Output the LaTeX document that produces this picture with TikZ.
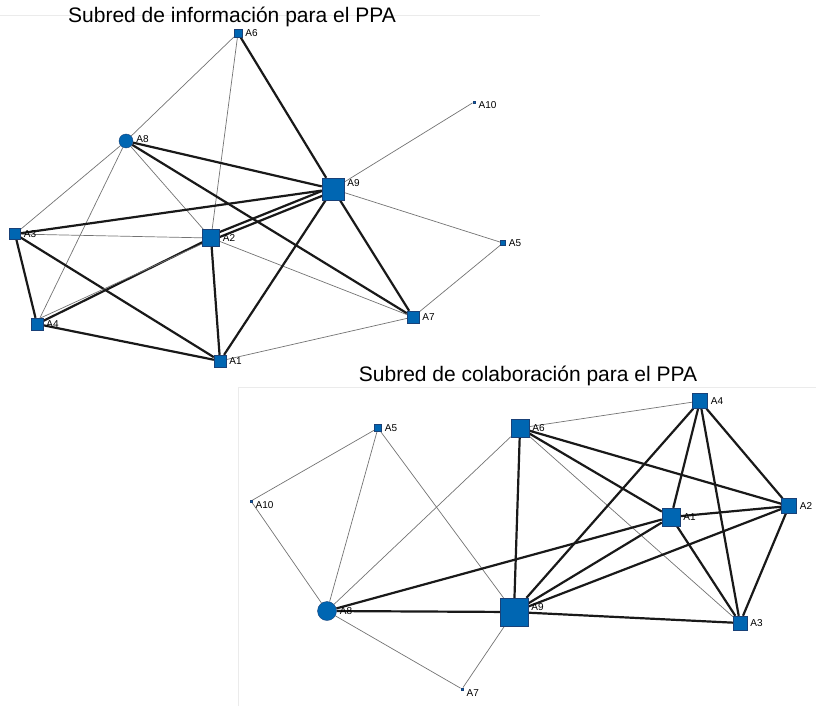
\documentclass[tikz,border=0pt]{standalone}
\usepackage{fontspec}
\setmainfont{Liberation Sans}
\usetikzlibrary{backgrounds}
\definecolor{nodeblue}{RGB}{0,102,178}
\definecolor{nodeline}{RGB}{25,65,120}
\tikzset{
  actor/.style={rectangle,draw=nodeline,line width=0.4pt,fill=nodeblue,inner sep=0pt,minimum size=#1},
  actorc/.style={circle,draw=nodeline,line width=0.4pt,fill=nodeblue,inner sep=0pt,minimum size=#1},
  lbl/.style={font=\fontsize{10}{12}\selectfont,inner sep=1pt,label distance=2pt},
  strong/.style={line width=2.2pt,black!90},
  weak/.style={line width=0.7pt,black!55},
  ttl/.style={font=\fontsize{21}{24}\selectfont,anchor=base,inner sep=0pt},
  frame/.style={line width=0.6pt,black!8}
}
\begin{document}
\begin{tikzpicture}[x=1pt,y=-1pt]
\useasboundingbox (0,0) rectangle (816,706);
\draw[frame] (0,15) -- (540,15);
\draw[frame] (238,706) -- (238,387) -- (816,387);
% subred de informacion
\node[ttl] (ttlinfo) at (232,23) {Subred de información para el PPA};
\node[actor=8pt,label={[lbl]right:A6}] (iA6) at (238,33) {};
\node[actorc=14pt,label={[lbl,yshift=2pt]right:A8}] (iA8) at (126,141) {};
\node[actor=22pt,label={[lbl,yshift=6pt]right:A9}] (iA9) at (333,189) {};
\node[actor=11pt,label={[lbl]right:A3}] (iA3) at (15,234) {};
\node[actor=17pt,label={[lbl]right:A2}] (iA2) at (211,238) {};
\node[actor=12pt,label={[lbl]right:A4}] (iA4) at (37,324) {};
\node[actor=12pt,label={[lbl]right:A1}] (iA1) at (220,361) {};
\node[actor=12pt,label={[lbl]right:A7}] (iA7) at (413,317) {};
\node[actor=5pt,label={[lbl]right:A5}] (iA5) at (503,243) {};
\node[actor=2.5pt,label={[lbl,yshift=-3pt]right:A10}] (iA10) at (474,102) {};
\begin{scope}[on background layer]
\foreach \a/\b in {iA6/iA8,iA6/iA2,iA8/iA3,iA8/iA4,iA8/iA2,iA9/iA10,iA9/iA5,
                   iA3/iA2,iA2/iA7,iA1/iA7,iA7/iA5}
  \draw[weak] (\a) -- (\b);
\foreach \a/\b in {iA6/iA9,iA8/iA9,iA8/iA7,iA9/iA3,iA9/iA1,iA9/iA7,
                   iA3/iA4,iA3/iA1,iA2/iA1,iA4/iA1,iA4/iA2}
  \draw[strong] (\a) -- (\b);
\draw[strong] ([yshift=2.5pt]iA2.center) -- ([yshift=2.5pt]iA9.center);
\draw[strong] ([yshift=-2.5pt]iA2.center) -- ([yshift=-2.5pt]iA9.center);
\draw[weak] ([xshift=-3pt,yshift=3pt]iA4.center) -- ([xshift=-7pt,yshift=-5pt]iA2.center);
\end{scope}
% subred de colaboracion
\node[ttl] (ttlcolab) at (528,381) {Subred de colaboración para el PPA};
\node[actor=7pt,label={[lbl]right:A5}] (cA5) at (378,428) {};
\node[actor=2.5pt,label={[lbl,yshift=-4pt]right:A10}] (cA10) at (251,501) {};
\node[actorc=19pt,label={[lbl]right:A8}] (cA8) at (327,611) {};
\node[actor=28pt,label={[lbl,yshift=5pt]right:A9}] (cA9) at (514,612) {};
\node[actor=2.5pt,label={[lbl,yshift=-4pt]right:A7}] (cA7) at (462,689) {};
\node[actor=18pt,label={[lbl]right:A6}] (cA6) at (520,428) {};
\node[actor=15pt,label={[lbl]right:A4}] (cA4) at (700,401) {};
\node[actor=18pt,label={[lbl]right:A1}] (cA1) at (671,517) {};
\node[actor=15pt,label={[lbl]right:A2}] (cA2) at (789,506) {};
\node[actor=14pt,label={[lbl]right:A3}] (cA3) at (740,623) {};
\begin{scope}[on background layer]
\foreach \a/\b in {cA5/cA10,cA5/cA8,cA5/cA9,cA10/cA8,cA8/cA6,cA8/cA7,
                   cA9/cA7,cA6/cA4,cA6/cA3}
  \draw[weak] (\a) -- (\b);
\foreach \a/\b in {cA8/cA1,cA8/cA9,cA6/cA9,cA6/cA1,cA6/cA2,cA4/cA9,cA4/cA1,
                   cA4/cA3,cA4/cA2,cA1/cA2,cA1/cA9,cA1/cA3,cA2/cA9,cA2/cA3,cA9/cA3}
  \draw[strong] (\a) -- (\b);
\end{scope}
\end{tikzpicture}
\end{document}
